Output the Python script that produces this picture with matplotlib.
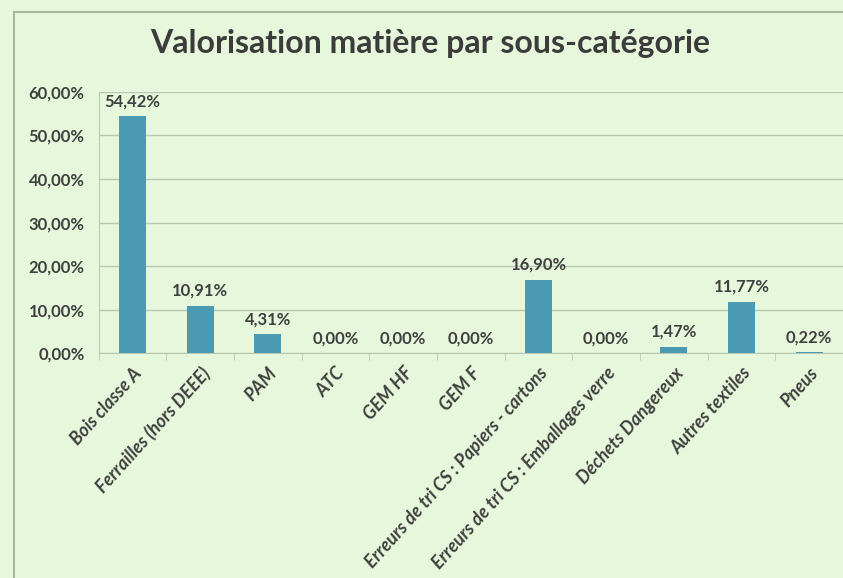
import matplotlib.pyplot as plt
from matplotlib.patches import Rectangle
from matplotlib.ticker import FuncFormatter, MultipleLocator

categories = [
    "Bois classe A",
    "Ferrailles (hors DEEE)",
    "PAM",
    "ATC",
    "GEM HF",
    "GEM F",
    "Erreurs de tri CS : Papiers - cartons",
    "Erreurs de tri CS : Emballages verre",
    "Déchets Dangereux",
    "Autres textiles",
    "Pneus",
]
values = [54.42, 10.91, 4.31, 0.00, 0.00, 0.00, 16.90, 0.00, 1.47, 11.77, 0.22]

BG = "#e7f7dc"
BAR = "#4a9ab3"
TEXT = "#404040"
GRID = "#b9c8b0"

plt.rcParams["font.family"] = ["Lato", "DejaVu Sans"]

fig = plt.figure(figsize=(8.43, 5.78), dpi=100, facecolor=BG)
ax = fig.add_axes([0.117, 0.389, 0.883, 0.452])
ax.set_facecolor(BG)

x = range(len(categories))
ax.bar(x, values, width=0.4, color=BAR, zorder=3)
for xi, v in zip(x, values):
    ax.text(xi, v + 1.6, f"{v:.2f}%".replace(".", ","), ha="center", va="bottom",
            fontsize=12, fontweight="bold", color=TEXT)

ax.set_xlim(-0.5, len(categories) - 0.5)
ax.set_ylim(0, 60)
ax.yaxis.set_major_locator(MultipleLocator(10))
ax.yaxis.set_major_formatter(FuncFormatter(lambda v, _: f"{v:.2f}%".replace(".", ",")))
ax.grid(axis="y", color=GRID, linewidth=1.0, zorder=0)
for s in ["top", "right"]:
    ax.spines[s].set_visible(False)
ax.spines["left"].set_color(GRID)
ax.spines["bottom"].set_color(GRID)
ax.tick_params(axis="y", length=0, labelsize=12, labelcolor=TEXT, pad=10)
for lbl in ax.get_yticklabels():
    lbl.set_fontweight("bold")

ax.set_xticks(list(x))
ax.set_xticklabels(categories, rotation=48, ha="right", rotation_mode="anchor",
                   fontsize=13, color=TEXT, style="italic", fontweight="bold")
ax.tick_params(axis="x", length=0, pad=8)
ax.set_xticks([i - 0.5 for i in range(len(categories) + 1)], minor=True)
ax.tick_params(axis="x", which="minor", length=5, color=GRID)

fig.text(0.51, 0.925, "Valorisation matière par sous-catégorie", ha="center", va="center",
         fontsize=23, fontweight="bold", color="#3c3c3c")

fig.patches.append(Rectangle((0.017, -0.05), 1.1, 1.03, transform=fig.transFigure,
                             fill=False, edgecolor="#a8b8a0", linewidth=1.5))

fig.savefig("out.png", dpi=100, facecolor=BG)
